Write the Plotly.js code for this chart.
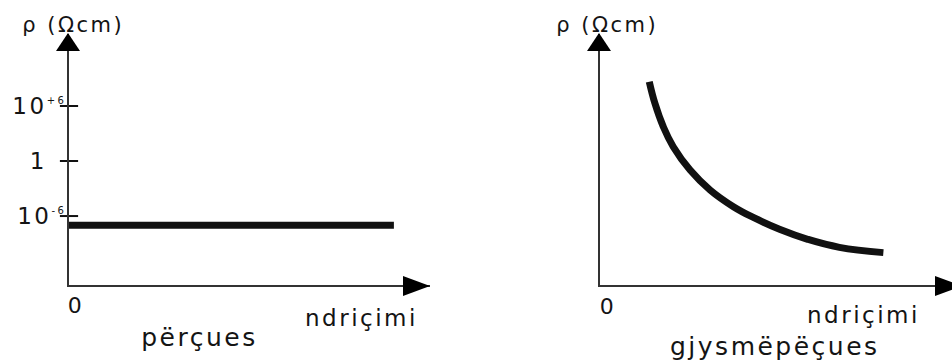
<!DOCTYPE html>
<html>
<head>
<meta charset="utf-8">
<script src="https://cdn.plot.ly/plotly-3.0.1.min.js"></script>
<style>
  html, body { margin: 0; padding: 0; background: #fff; }
  #chart { width: 952px; height: 361px; }
  .main-svg text { letter-spacing: 2.5px; }
</style>
</head>
<body>
<div id="chart"></div>
<script>
// Resistivity vs. illumination: conductor (left) and semiconductor (right)

// Conductor: resistivity stays constant as illumination grows
const conductorLight = [0, 9];
const conductorRho = [1e-7, 1e-7];

// Resistivity tick marks on the conductor panel
const rhoTickVals = [1e6, 1, 1e-6];
const SUP = s => '<sup><span style="font-size:10px">' + s + '</span></sup>';
const rhoTickText = ['10' + SUP('+6'), '1\u00a0\u00a0', '10' + SUP('-6')];

// Semiconductor: resistivity falls as illumination grows (arbitrary units)
const semiLight = [1.40, 1.56, 1.80, 2.08, 2.56, 3.13, 3.79, 4.40, 5.10, 5.90, 6.80, 8.05];
const semiRho = [8.10, 7.24, 6.30, 5.51, 4.58, 3.78, 3.12, 2.66, 2.22, 1.82, 1.50, 1.29];

// Text labels
const yLabel = 'ρ (Ωcm)';
const xLabel = 'ndriçimi';
const originLabel = '0';
const leftCaption = 'përçues';
const rightCaption = 'gjysmëpëçues';

const W = 952, H = 361;
const px = v => v / W;
const py = v => 1 - v / H;

const FONT = 'DejaVu Sans, Verdana, sans-serif';
const INK = '#141414';
const AXIS = '#333333';

const yDomain = [py(285), py(34)];

const traces = [
  {
    x: conductorLight, y: conductorRho, xaxis: 'x', yaxis: 'y',
    mode: 'lines', line: { color: '#111', width: 7 },
    hoverinfo: 'skip'
  },
  {
    x: rhoTickVals.map(() => 0), y: rhoTickVals, xaxis: 'x', yaxis: 'y',
    mode: 'markers', cliponaxis: false,
    marker: { symbol: 'line-ew', size: 13, line: { color: '#111', width: 2 } },
    hoverinfo: 'skip'
  },
  {
    x: semiLight, y: semiRho, xaxis: 'x2', yaxis: 'y2',
    mode: 'lines', line: { color: '#111', width: 7, shape: 'spline', smoothing: 1.2 },
    hoverinfo: 'skip'
  }
];

const baseAxis = {
  showline: true, linecolor: AXIS, linewidth: 2,
  showgrid: false, zeroline: false, ticks: '', fixedrange: true
};

// Arrowheads at the ends of each axis (pixel-sized triangles)
function arrowUp(xr, yr) {
  return {
    type: 'path', xref: xr + ' domain', yref: yr + ' domain',
    xsizemode: 'pixel', ysizemode: 'pixel', xanchor: 0, yanchor: 1,
    path: 'M -13,-17 L 11,-17 L -1,1 Z',
    fillcolor: '#000', line: { width: 0 }
  };
}
function arrowRight(xr, yr, back, tip) {
  return {
    type: 'path', xref: xr + ' domain', yref: yr + ' domain',
    xsizemode: 'pixel', ysizemode: 'pixel', xanchor: 1, yanchor: 0,
    path: `M ${back},-11 L ${back},9 L ${tip},-1 Z`,
    fillcolor: '#000', line: { width: 0 }
  };
}

function label(text, x, y, size) {
  return {
    text: text, xref: 'paper', yref: 'paper', x: px(x), y: py(y),
    xanchor: 'center', yanchor: 'middle', showarrow: false,
    font: { family: FONT, size: size, color: INK }
  };
}

const layout = {
  width: W, height: H,
  margin: { l: 0, r: 0, t: 0, b: 0 },
  paper_bgcolor: '#fff', plot_bgcolor: 'rgba(0,0,0,0)',
  showlegend: false,
  xaxis: Object.assign({}, baseAxis, {
    domain: [px(69), px(430)], range: [0, 10], showticklabels: false, anchor: 'y'
  }),
  yaxis: Object.assign({}, baseAxis, {
    domain: yDomain, type: 'log', range: [-13.52, 13.85], anchor: 'x',
    tickmode: 'array', tickvals: rhoTickVals, ticktext: rhoTickText,
    ticklabelstandoff: -4,
    tickfont: { family: FONT, size: 23, color: INK }
  }),
  xaxis2: Object.assign({}, baseAxis, {
    domain: [px(600), 1], range: [0, 10], showticklabels: false, anchor: 'y2'
  }),
  yaxis2: Object.assign({}, baseAxis, {
    domain: yDomain, range: [0, 10], showticklabels: false, anchor: 'x2'
  }),
  shapes: [
    arrowUp('x', 'y'),
    arrowRight('x', 'y', -27, 0),
    arrowUp('x2', 'y2'),
    arrowRight('x2', 'y2', -17, 10)
  ],
  annotations: [
    label(yLabel, 73, 25, 21),
    label(yLabel, 607, 25, 21),
    label(originLabel, 76, 305, 22),
    label(originLabel, 608, 306, 22),
    label(xLabel, 361, 318, 23),
    label(xLabel, 863, 315, 23),
    label(leftCaption, 199, 337, 25),
    label(rightCaption, 775, 346, 25)
  ]
};

Plotly.newPlot('chart', traces, layout, { staticPlot: true, displayModeBar: false });
</script>
</body>
</html>
